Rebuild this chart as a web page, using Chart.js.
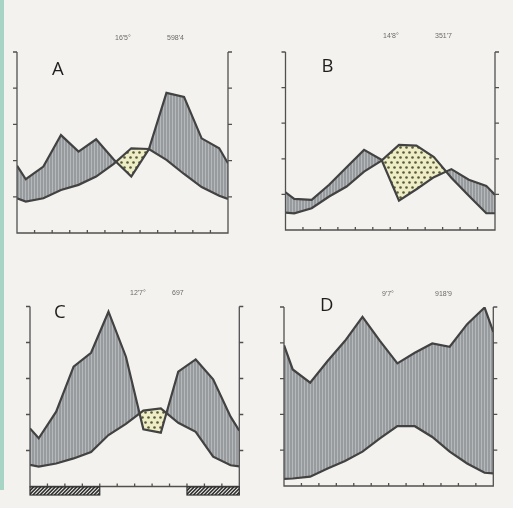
<!DOCTYPE html>
<html><head><meta charset="utf-8">
<script src="https://cdn.jsdelivr.net/npm/chart.js@4.4.0/dist/chart.umd.min.js"></script>
<style>
html,body{margin:0;padding:0;background:#f3f2ee;width:513px;height:508px;overflow:hidden;}
#wrap{position:relative;width:513px;height:508px;}
#wrap canvas{position:absolute;left:0;top:0;}
.strip{position:absolute;left:0;top:0;width:4px;height:490px;background:#a7d4c5;}
.lbl{position:absolute;font-family:'Open Sans',sans-serif;font-size:18.5px;line-height:18px;color:#1e1e1e;white-space:nowrap;}
.num{position:absolute;font-family:'Liberation Sans',Arial,sans-serif;font-size:7px;line-height:7px;color:#6a6a6a;white-space:nowrap;}
</style></head>
<body>
<div id="wrap"><div class="strip"></div></div>
<script>
// ---- data ----
const monthX = [0, 0.5, 1.5, 2.5, 3.5, 4.5, 5.5, 6.5, 7.5, 8.5, 9.5, 10.5, 11.5, 12];
const tempTicks = [10, 20, 30, 40, 50];
const monthTicks = [1, 2, 3, 4, 5, 6, 7, 8, 9, 10, 11];

const precipA = [37.2, 29.7, 36.7, 54.1, 45.0, 51.8, 40.6, 31.2, 46.2, 77.4, 75.2, 52.3, 46.8, 38.5];
const tempA   = [9.6, 8.7, 9.6, 11.9, 13.3, 15.6, 19.1, 23.4, 23.2, 20.2, 16.3, 12.7, 10.3, 9.4];

const precipB = [21.2, 17.5, 16.9, 25.4, 35.3, 45.0, 39.4, 16.5, 22.9, 29.7, 34.2, 28.2, 24.8, 19.7];
const tempB   = [4.9, 4.7, 6.1, 9.4, 12.2, 16.4, 19.5, 23.9, 23.7, 20.5, 14.7, 9.6, 4.7, 4.7];

const precipC = [32.3, 26.8, 41.6, 66.6, 74.3, 97.1, 72.1, 31.8, 29.9, 63.8, 70.6, 59.5, 38.8, 31.0];
const tempC   = [6.0, 5.5, 6.4, 7.8, 9.6, 14.3, 17.4, 21.1, 21.7, 17.7, 15.2, 8.3, 5.9, 5.6];
const frostC  = [1, 1, 1, 1, 0, 0, 0, 0, 0, 1, 1, 1];

const precipD = [78.7, 65.1, 57.7, 69.8, 81.1, 94.5, 81.1, 68.5, 74.4, 79.6, 77.8, 90.4, 99.7, 86.1];
const tempD   = [2.0, 2.1, 2.6, 4.9, 7.0, 9.6, 13.3, 16.7, 16.7, 13.7, 9.6, 6.3, 3.7, 3.5];

const panelLabels = ['A', 'B', 'C', 'D'];
const meanTemps = ["16'5°", "14'8°", "12'7°", "9'7°"];
const annualPrecip = ["598'4", "351'7", "697", "918'9"];

// ---- layout (page pixels) ----
const W = 513, H = 508;
const panels = [
  {area:{l:17, t:52, r:228, b:233}, precip:precipA, temp:tempA, frost:null,
   label:{x:52, y:58.5}, tText:{x:115, y:34}, pText:{x:167, y:34}},
  {area:{l:285.5, t:52, r:495, b:230}, precip:precipB, temp:tempB, frost:null,
   label:{x:321.5, y:56}, tText:{x:383, y:32}, pText:{x:435, y:32}},
  {area:{l:30, t:306.5, r:239.3, b:486.5}, precip:precipC, temp:tempC, frost:frostC,
   label:{x:54, y:302}, tText:{x:130, y:289}, pText:{x:172, y:289}},
  {area:{l:284, t:307, r:493.3, b:486}, precip:precipD, temp:tempD, frost:null,
   label:{x:320, y:295}, tText:{x:382, y:290}, pText:{x:435, y:290}}
];

// ---- patterns ----
function hatchPattern() {
  const c = document.createElement('canvas'); c.width = 3; c.height = 3;
  const g = c.getContext('2d');
  g.fillStyle = '#989b9e'; g.fillRect(0, 0, 3, 3);
  g.fillStyle = '#b6b9bb'; g.fillRect(1, 0, 1, 3);
  return g.createPattern(c, 'repeat');
}
function dotPattern() {
  const c = document.createElement('canvas'); c.width = 6; c.height = 10;
  const g = c.getContext('2d');
  g.fillStyle = '#eeedc6'; g.fillRect(0, 0, 6, 10);
  g.fillStyle = '#555a3a';
  [[1.5, 2.5], [4.5, 7.5]].forEach(([x, y]) => { g.beginPath(); g.arc(x, y, 1.3, 0, Math.PI * 2); g.fill(); });
  return g.createPattern(c, 'repeat');
}

const framePlugin = {
  id: 'frame',
  afterDatasetsDraw(chart) {
    const {ctx, chartArea: a} = chart;
    const x = chart.scales.x, y = chart.scales.y;
    ctx.save();
    ctx.strokeStyle = '#505050';
    ctx.lineWidth = 1.3;
    ctx.beginPath();
    ctx.moveTo(a.left, a.top); ctx.lineTo(a.left, a.bottom);
    ctx.lineTo(a.right, a.bottom); ctx.lineTo(a.right, a.top);
    tempTicks.forEach(v => {
      const py = y.getPixelForValue(v);
      ctx.moveTo(a.left - 4, py); ctx.lineTo(a.left, py);
      ctx.moveTo(a.right, py); ctx.lineTo(a.right + 4, py);
    });
    monthTicks.forEach(v => {
      const px = x.getPixelForValue(v);
      ctx.moveTo(px, a.bottom); ctx.lineTo(px, a.bottom - 3);
    });
    ctx.stroke();
    const frost = chart.options.plugins.frame.frost;
    if (frost) {
      let i = 0;
      while (i < frost.length) {
        if (!frost[i]) { i++; continue; }
        let j = i; while (j < frost.length && frost[j]) j++;
        const x0 = x.getPixelForValue(i), x1 = x.getPixelForValue(j);
        const y0 = a.bottom + 0.5, h = 8;
        ctx.save();
        ctx.fillStyle = '#f3f2ee';
        ctx.fillRect(x0, y0, x1 - x0, h);
        ctx.beginPath(); ctx.rect(x0, y0, x1 - x0, h); ctx.clip();
        ctx.strokeStyle = '#2e2e2e'; ctx.lineWidth = 1.6;
        ctx.beginPath();
        for (let sx = x0 - h; sx < x1 + h; sx += 3.6) {
          ctx.moveTo(sx, y0 + h); ctx.lineTo(sx + h, y0);
        }
        ctx.stroke();
        ctx.restore();
        ctx.strokeStyle = '#2e2e2e'; ctx.lineWidth = 1.2;
        ctx.strokeRect(x0, y0, x1 - x0, h);
        i = j;
      }
    }
    ctx.restore();
  }
};

const wrap = document.getElementById('wrap');
const hatch = hatchPattern(), dots = dotPattern();

panels.forEach((p, k) => {
  const cv = document.createElement('canvas');
  cv.width = W; cv.height = H;
  cv.style.width = W + 'px'; cv.style.height = H + 'px';
  wrap.appendChild(cv);
  new Chart(cv, {
    type: 'line',
    data: {
      datasets: [
        {
          data: p.precip.map((v, i) => ({x: monthX[i], y: v})),
          yAxisID: 'yP',
          borderColor: '#424242', borderWidth: 2.2, pointRadius: 0, tension: 0,
          fill: {target: 1, above: hatch, below: dots}
        },
        {
          data: p.temp.map((v, i) => ({x: monthX[i], y: v})),
          yAxisID: 'y',
          borderColor: '#424242', borderWidth: 2.2, pointRadius: 0, tension: 0,
          fill: false
        }
      ]
    },
    options: {
      responsive: false,
      animation: false,
      events: [],
      layout: {padding: {left: p.area.l, top: p.area.t, right: W - p.area.r, bottom: H - p.area.b}},
      scales: {
        x: {type: 'linear', min: 0, max: 12, display: false},
        y: {type: 'linear', min: 0, max: 50, display: false},
        yP: {type: 'linear', min: 0, max: 100, display: false}
      },
      plugins: {
        legend: {display: false},
        tooltip: {enabled: false},
        filler: {drawTime: 'beforeDatasetsDraw'},
        frame: {frost: p.frost}
      }
    },
    plugins: [framePlugin]
  });
  const addText = (cls, txt, pos) => {
    const d = document.createElement('div');
    d.className = cls; d.textContent = txt;
    d.style.left = pos.x + 'px'; d.style.top = pos.y + 'px';
    wrap.appendChild(d);
  };
  addText('lbl', panelLabels[k], p.label);
  addText('num', meanTemps[k], p.tText);
  addText('num', annualPrecip[k], p.pText);
});
</script>
</body></html>
